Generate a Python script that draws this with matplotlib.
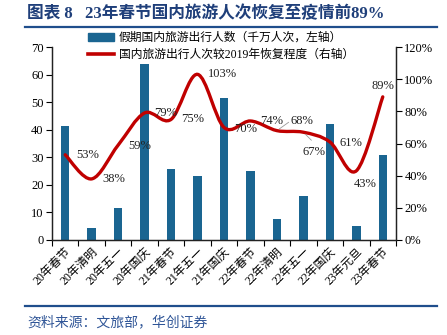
import matplotlib.pyplot as plt
import numpy as np
from matplotlib.path import Path
from matplotlib.patches import PathPatch, Patch
from matplotlib.lines import Line2D

plt.rcParams['font.family'] = ['Liberation Serif', 'Noto Sans CJK SC']

# data
holidays = ['20年春节', '20年清明', '20年五一', '20年国庆', '21年春节', '21年五一',
            '21年国庆', '22年春节', '22年清明', '22年五一', '22年国庆', '23年元旦', '23年春节']
travelers = [41.5, 4.3, 11.6, 63.7, 25.6, 23.1, 51.5, 25.1, 7.6, 16.0, 42.0, 5.1, 30.8]  # 千万人次
recovery = [53, 38, 59, 79, 75, 103, 70, 74, 68, 67, 61, 43, 89]  # % of 2019
# label offsets in pixels (dx, dy) from each point
label_offsets = [(22, 0), (22, 0), (22, -1), (21, 0), (22, 0), (25, 0), (22, -2),
                 (21, 0), (25, 10), (11, -20), (21, -1), (9, -13), (0, 11)]

bar_color = '#1A6591'
line_color = '#C00000'
navy = '#1F3F7A'

fig = plt.figure(figsize=(4.47, 3.35), dpi=100)
ax = fig.add_axes([52 / 447, 1 - 240 / 335, 344 / 447, 193 / 335])
ax2 = ax.twinx()

x = np.arange(len(holidays))
ax.bar(x, travelers, width=0.32, color=bar_color, zorder=2)
ax.set_xlim(-0.5, len(holidays) - 0.5)
ax.set_ylim(0, 70)
ax.set_yticks(np.arange(0, 71, 10))
ax2.set_ylim(0, 120)
ax2.set_yticks(np.arange(0, 121, 20))
ax2.set_yticklabels([f'{v}%' for v in range(0, 121, 20)])

# x ticks at category boundaries, labels at centres
ax.set_xticks(np.arange(-0.5, len(holidays), 1))
ax.set_xticklabels([])
ax.set_xticks(x, minor=True)
ax.set_xticklabels(holidays, minor=True, rotation=45, ha='right', va='top',
                   rotation_mode='anchor', fontsize=8.5)
ax.tick_params(axis='x', which='minor', length=0, pad=4)
ax.tick_params(axis='x', which='major', direction='out', length=4, width=0.8)
ax.tick_params(axis='y', direction='out', length=4, width=0.8, labelsize=9, pad=2)
ax2.tick_params(axis='y', direction='out', length=4, width=0.8, labelsize=9, pad=2)

for a in (ax, ax2):
    a.spines['top'].set_visible(False)
    for s in ('left', 'right', 'bottom'):
        a.spines[s].set_linewidth(0.9)
        a.spines[s].set_color('#222222')

# smoothed line (Catmull-Rom style bezier like Excel's smooth line)
pts = np.column_stack([x, recovery]).astype(float)
n = len(pts)
verts = [tuple(pts[0])]
codes = [Path.MOVETO]
for i in range(n - 1):
    p0 = pts[max(i - 1, 0)]
    p1 = pts[i]
    p2 = pts[i + 1]
    p3 = pts[min(i + 2, n - 1)]
    c1 = p1 + (p2 - p0) / 6
    c2 = p2 - (p3 - p1) / 6
    verts += [tuple(c1), tuple(c2), tuple(p2)]
    codes += [Path.CURVE4] * 3
curve = PathPatch(Path(verts, codes), facecolor='none', edgecolor=line_color,
                  lw=2.4, capstyle='round', zorder=3)
ax2.add_patch(curve)

for i, v in enumerate(recovery):
    dx, dy = label_offsets[i]
    ax2.annotate(f'{v}%', (x[i], v), xytext=(dx, dy), textcoords='offset pixels',
                 ha='center', va='center', fontsize=9, color='#222222', zorder=4)

# leader lines for the crowded labels
ax2.annotate('', (x[8], recovery[8]), xytext=(14, 10), textcoords='offset pixels',
             arrowprops=dict(arrowstyle='-', color='#999999', lw=0.6))
ax2.annotate('', (x[9], recovery[9]), xytext=(10, -10), textcoords='offset pixels',
             arrowprops=dict(arrowstyle='-', color='#999999', lw=0.6))

handles = [Patch(color=bar_color), Line2D([], [], color=line_color, lw=2.6)]
labels = ['假期国内旅游出行人数（千万人次，左轴）', '国内旅游出行人次较2019年恢复程度（右轴）']
fig.legend(handles, labels, loc='upper left', bbox_to_anchor=(88 / 447, 1 - 32 / 335),
           frameon=False, fontsize=8.5, handlelength=2.2, handleheight=0.6,
           handletextpad=0.4, labelspacing=0.45, borderpad=0, borderaxespad=0)

# title, rules and source
fig.text(27 / 447, 1 - 14 / 335, '图表 8   23年春节国内旅游人次恢复至疫情前89%',
         fontsize=12, fontweight='bold', color=navy, va='center', ha='left')
fig.add_artist(Line2D([25 / 447, 437 / 447], [1 - 27 / 335] * 2, color='#1F4E8C', lw=1.6))
fig.add_artist(Line2D([25 / 447, 437 / 447], [1 - 306 / 335] * 2, color='#1F4E8C', lw=1.6))
fig.text(27 / 447, 1 - 322 / 335, '资料来源：文旅部，华创证券', fontsize=10,
         color='#2F5597', va='center', ha='left')

fig.savefig('out.png', dpi=100)
